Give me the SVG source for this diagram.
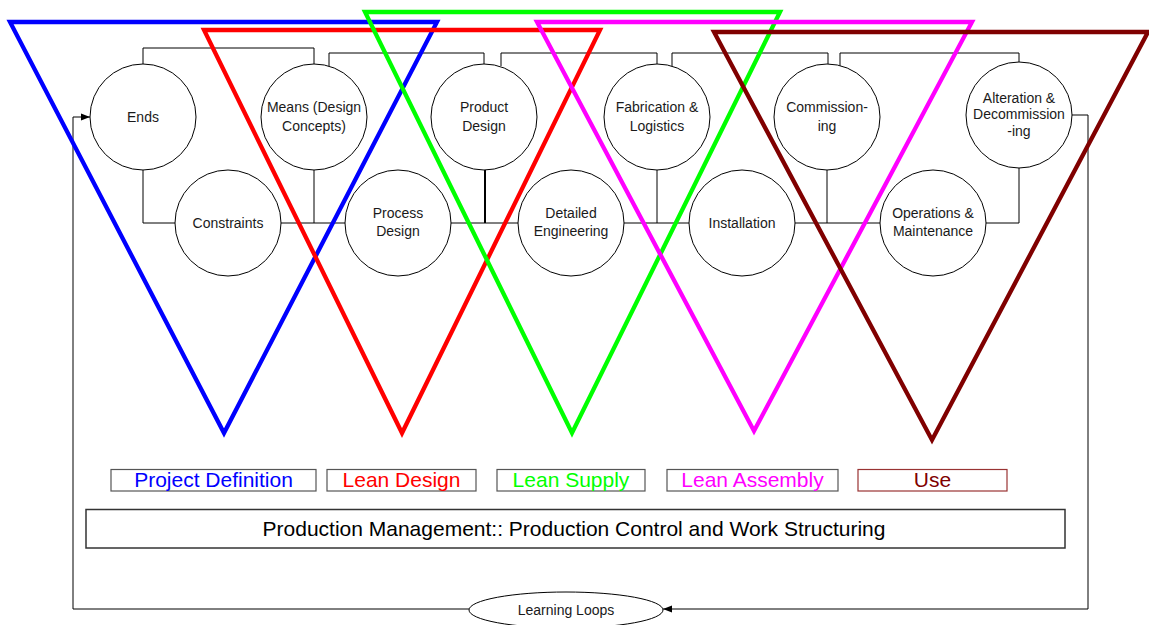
<svg xmlns="http://www.w3.org/2000/svg" width="1149" height="625" viewBox="0 0 1149 625">
<style>
.node circle{fill:#fff;stroke:#000;stroke-width:1}
.node text,.lbl{font-family:"Liberation Sans",Arial,sans-serif;font-size:14px;fill:#1a1a1a;text-anchor:middle}
.conn{fill:none;stroke:#000;stroke-width:1}
.tri{fill:none;stroke-width:4.3;stroke-linejoin:miter}
.leg rect{fill:#fff;stroke:#555;stroke-width:1.2}
.leg text{font-family:"Liberation Sans",Arial,sans-serif;font-size:21px;text-anchor:middle}
</style>
<defs>
<marker id="arr" markerWidth="10" markerHeight="8" refX="9" refY="4" orient="auto" markerUnits="userSpaceOnUse">
<path d="M0,0.5 L9,4 L0,7.5 Z" fill="#000"/>
</marker>
</defs>
<rect width="1149" height="625" fill="#fff"/>
<g id="connectors">
<polyline class="conn" points="143,64 143,48 314,48 314,64"/>
<polyline class="conn" points="329,66 329,53 484,53 484,64"/>
<polyline class="conn" points="501,66 501,53 657,53 657,64"/>
<polyline class="conn" points="672,66 672,53 828,53 828,64"/>
<polyline class="conn" points="824,67 840,67"/>
<polyline class="conn" points="840,67 840,53 1019,53 1019,62"/>
<polyline class="conn" points="143,170 143,223 175,223"/>
<polyline class="conn" points="281,223 345,223"/>
<polyline class="conn" points="314,170 314,223"/>
<polyline class="conn" points="451,223 518,223"/>
<polyline class="conn" points="485,170 485,223" style="stroke-width:2"/>
<polyline class="conn" points="624,223 689,223"/>
<polyline class="conn" points="657,170 657,223"/>
<polyline class="conn" points="795,223 881,223"/>
<polyline class="conn" points="827,170 827,223"/>
<polyline class="conn" points="986,223 1019,223 1019,167"/>
<polyline class="conn" points="1072,115 1088,115 1088,609 663,609" marker-end="url(#arr)"/>
<polyline class="conn" points="469,609 73,609 73,117 90,117" marker-end="url(#arr)"/>
</g>
<g id="n-ends" class="node"><circle cx="143" cy="117" r="53"/><text x="143" y="122">Ends</text></g>
<g id="n-means" class="node"><circle cx="314" cy="117" r="53"/><text x="314" y="112">Means (Design</text><text x="314" y="131">Concepts)</text></g>
<g id="n-product" class="node"><circle cx="484" cy="117" r="53"/><text x="484" y="112">Product</text><text x="484" y="131">Design</text></g>
<g id="n-fab" class="node"><circle cx="657" cy="117" r="53"/><text x="657" y="112">Fabrication &amp;</text><text x="657" y="131">Logistics</text></g>
<g id="n-comm" class="node"><circle cx="827" cy="117" r="53"/><text x="827" y="112">Commission-</text><text x="827" y="131">ing</text></g>
<g id="n-alter" class="node"><circle cx="1019" cy="115" r="53"/><text x="1019" y="103">Alteration &amp;</text><text x="1019" y="119">Decommission</text><text x="1019" y="136">-ing</text></g>
<g id="n-constraints" class="node"><circle cx="228" cy="223" r="53"/><text x="228" y="228">Constraints</text></g>
<g id="n-process" class="node"><circle cx="398" cy="223" r="53"/><text x="398" y="218">Process</text><text x="398" y="236">Design</text></g>
<g id="n-detailed" class="node"><circle cx="571" cy="223" r="53"/><text x="571" y="218">Detailed</text><text x="571" y="236">Engineering</text></g>
<g id="n-install" class="node"><circle cx="742" cy="223" r="53"/><text x="742" y="228">Installation</text></g>
<g id="n-ops" class="node"><circle cx="933" cy="223" r="53"/><text x="933" y="218">Operations &amp;</text><text x="933" y="236">Maintenance</text></g>
<g id="triangles">
<polygon class="tri" stroke="#0000ff" points="10,22 437,22 224,433"/>
<polygon class="tri" stroke="#ff0000" points="204,30 600,30 402,433"/>
<polygon class="tri" stroke="#00ff00" points="365,12 780,12 572,433"/>
<polygon class="tri" stroke="#ff00ff" points="537,22 972,22 754,431"/>
<polygon class="tri" stroke="#800000" points="714,32 1148,32 932,440"/>
</g>
<g id="leg-pd" class="leg"><rect x="111" y="469.5" width="205" height="21.5"/><text x="213.5" y="487" fill="#0000ff">Project Definition</text></g>
<g id="leg-ld" class="leg"><rect x="327" y="469.5" width="149" height="21.5"/><text x="401.5" y="487" fill="#ff0000">Lean Design</text></g>
<g id="leg-ls" class="leg"><rect x="497" y="469.5" width="148" height="21.5"/><text x="571" y="487" fill="#00ff00">Lean Supply</text></g>
<g id="leg-la" class="leg"><rect x="667" y="469.5" width="171" height="21.5"/><text x="752.5" y="487" fill="#ff00ff">Lean Assembly</text></g>
<g id="leg-use" class="leg"><rect x="858" y="469.5" width="149" height="21.5" style="stroke:#993333"/><text x="932.5" y="487" fill="#800000">Use</text></g>
<g id="n-pm" class="leg"><rect x="86" y="509.5" width="979" height="38.5" style="stroke:#333;stroke-width:1.5"/><text x="574" y="535.5" fill="#000">Production Management:: Production Control and Work Structuring</text></g>
<g id="n-loops" class="node"><ellipse cx="566" cy="610" rx="97" ry="18" fill="#fff" stroke="#000" stroke-width="1"/><text x="566" y="615">Learning Loops</text></g>
</svg>
